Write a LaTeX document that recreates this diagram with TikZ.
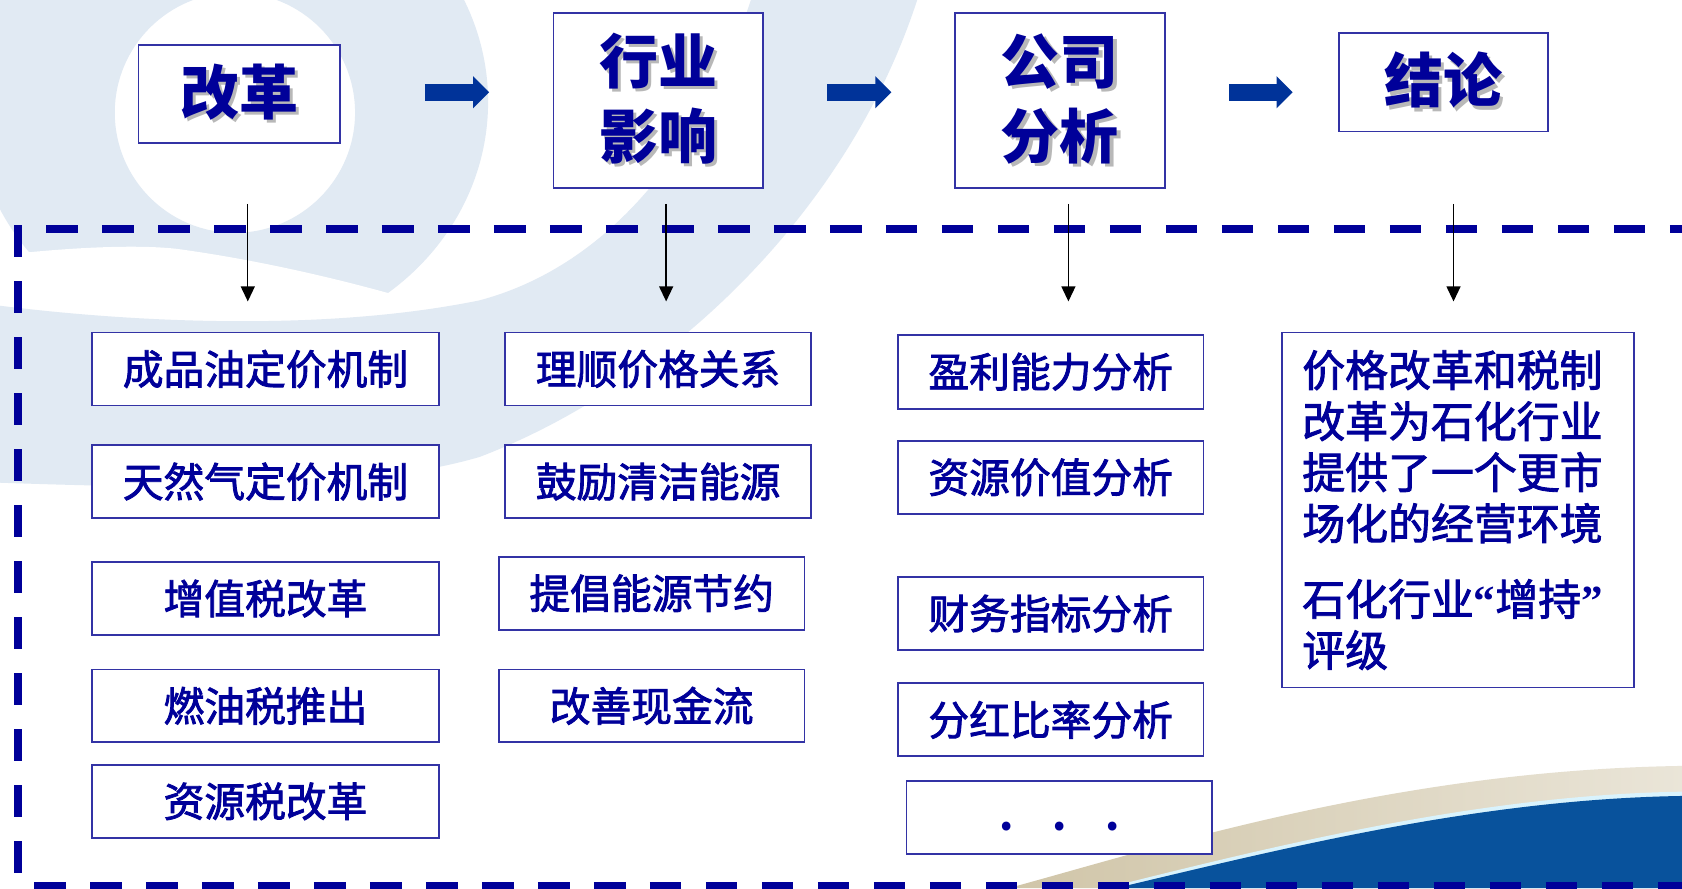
\documentclass[tikz,border=0pt]{standalone}
\usepackage{fontspec}
\newfontfamily\cjk{Noto Sans CJK SC}
\newfontfamily\cjkm[FakeBold=2]{Noto Sans CJK SC}
\newfontfamily\lat{Liberation Serif}
\usetikzlibrary{arrows.meta}
\definecolor{navy}{RGB}{0,0,153}
\definecolor{boxline}{RGB}{51,51,165}
\definecolor{fatblue}{RGB}{0,51,153}
\definecolor{swirl}{RGB}{225,234,243}
\definecolor{beige}{RGB}{208,197,168}
\definecolor{waveblue}{RGB}{8,82,156}
\newcommand\shd[1]{\leavevmode\rlap{\hspace{3pt}\raisebox{-3pt}{\color{black!28}#1}}#1}
\tikzset{
 hdr/.style={draw=boxline,line width=1.6pt,fill=white,text=navy,inner sep=0pt,align=center,font=\cjk\bfseries\fontsize{55}{70}\selectfont},
 sbox/.style={draw=boxline,line width=1.6pt,fill=white,text=navy,inner sep=0pt,minimum height=68pt,font=\cjkm\fontsize{38}{46}\selectfont},
 fatarr/.style={draw=fatblue,line width=16pt,-{Triangle[length=15pt,width=29pt]}},
 thinarr/.style={draw=black,line width=1.3pt,-{Triangle[length=14pt,width=13pt]}},
 dashline/.style={draw=navy,line width=7.5pt,dash pattern=on 29.4pt off 22.8pt},
}
\begin{document}
\begin{tikzpicture}[x=1pt,y=-1pt]
\useasboundingbox (0,0) rectangle (1568,828);
\begin{scope}
\clip (0,0) rectangle (1568,828);
\fill[white] (0,0) rectangle (1568,828);
% swirl background
\fill[swirl,even odd rule] (215,95) ellipse [x radius=240, y radius=225] (219,105) circle [radius=112];
\fill[white] (0,238) .. controls (70,230) and (130,228) .. (165,232) .. controls (260,245) and (360,270) .. (450,300) -- (450,340) -- (0,340) -- cycle;
\fill[swirl] (700,0) -- (855,0) .. controls (790,200) and (620,360) .. (447,426) .. controls (330,460) and (150,455) .. (0,450) -- (0,285) .. controls (120,300) and (300,310) .. (447,280) .. controls (560,250) and (650,150) .. (700,0) -- cycle;
% bottom right wave
\shade[left color=beige,right color=beige!45!white] (940,828) .. controls (1080,790) and (1300,718) .. (1568,714) -- (1568,828) -- cycle;
\fill[white!85!cyan] (1030,828) .. controls (1190,788) and (1380,741) .. (1568,738) -- (1568,828) -- cycle;
\fill[waveblue] (1040,828) .. controls (1200,790) and (1380,745) .. (1568,742) -- (1568,828) -- cycle;
% dashed frame
\draw[dashline] (42.9,213.5) -- (1580,213.5);
\draw[dashline] (16.8,210) -- (16.8,840);
\draw[dashline] (31.7,826) -- (1580,826);
\end{scope}
% header boxes
\node[hdr,minimum width=188pt,minimum height=91pt] (h1) at (223,87.5) {\shd{改革}};
\node[hdr,minimum width=195pt,minimum height=163pt] (h2) at (613.5,93.5) {\shd{行业}\\\shd{影响}};
\node[hdr,minimum width=196pt,minimum height=163pt] (h3) at (988,93.5) {\shd{公司}\\\shd{分析}};
\node[hdr,minimum width=195pt,minimum height=92pt] (h4) at (1345.5,76.5) {\shd{结论}};
% fat arrows
\coordinate (f1s) at (396,86); \coordinate (f1e) at (456,86);
\coordinate (f2s) at (771,86); \coordinate (f2e) at (831,86);
\coordinate (f3s) at (1146,86); \coordinate (f3e) at (1205,86);
\draw[fatarr] (f1s) -- (f1e);
\draw[fatarr] (f2s) -- (f2e);
\draw[fatarr] (f3s) -- (f3e);
% thin arrows
\coordinate (v1s) at (231,190); \coordinate (v1e) at (231,281);
\coordinate (v2s) at (621,190); \coordinate (v2e) at (621,281);
\coordinate (v3s) at (996,190); \coordinate (v3e) at (996,281);
\coordinate (v4s) at (1355,190); \coordinate (v4e) at (1355,281);
\draw[thinarr] (v1s) -- (v1e);
\draw[thinarr] (v2s) -- (v2e);
\draw[thinarr] (v3s) -- (v3e);
\draw[thinarr] (v4s) -- (v4e);
% column 1
\node[sbox,minimum width=323pt] (a1) at (247.5,344) {成品油定价机制};
\node[sbox,minimum width=323pt] (a2) at (247.5,449) {天然气定价机制};
\node[sbox,minimum width=323pt] (a3) at (247.5,558) {增值税改革};
\node[sbox,minimum width=323pt] (a4) at (247.5,658) {燃油税推出};
\node[sbox,minimum width=323pt] (a5) at (247.5,747) {资源税改革};
% column 2
\node[sbox,minimum width=285pt] (b1) at (613.5,344) {理顺价格关系};
\node[sbox,minimum width=285pt] (b2) at (613.5,449) {鼓励清洁能源};
\node[sbox,minimum width=285pt] (b3) at (607.5,553) {提倡能源节约};
\node[sbox,minimum width=285pt] (b4) at (607.5,658) {改善现金流};
% column 3
\node[sbox,minimum width=285pt,minimum height=69pt] (c1) at (979.5,346.5) {盈利能力分析};
\node[sbox,minimum width=285pt] (c2) at (979.5,445) {资源价值分析};
\node[sbox,minimum width=285pt] (c3) at (979.5,572) {财务指标分析};
\node[sbox,minimum width=285pt] (c4) at (979.5,671) {分红比率分析};
\node[sbox,minimum width=285pt,font=\cjk\bfseries\fontsize{38}{46}\selectfont] (c5) at (987.5,762) {\raisebox{-12pt}[0pt][0pt]{.\hspace{36pt}.\hspace{36pt}.}\hspace{30pt}};
% conclusion box
\node[draw=boxline,line width=1.6pt,fill=white,text=navy,inner sep=0pt,minimum width=328pt,minimum height=331pt,text width=290pt,align=left,font=\cjkm\fontsize{40}{47.6}\selectfont] (d) at (1359,475.5) {价格改革和税制\\改革为石化行业\\提供了一个更市\\场化的经营环境\\[23pt]石化行业{\lat\bfseries “}增持{\lat\bfseries ”}\\评级};
\end{tikzpicture}
\end{document}
